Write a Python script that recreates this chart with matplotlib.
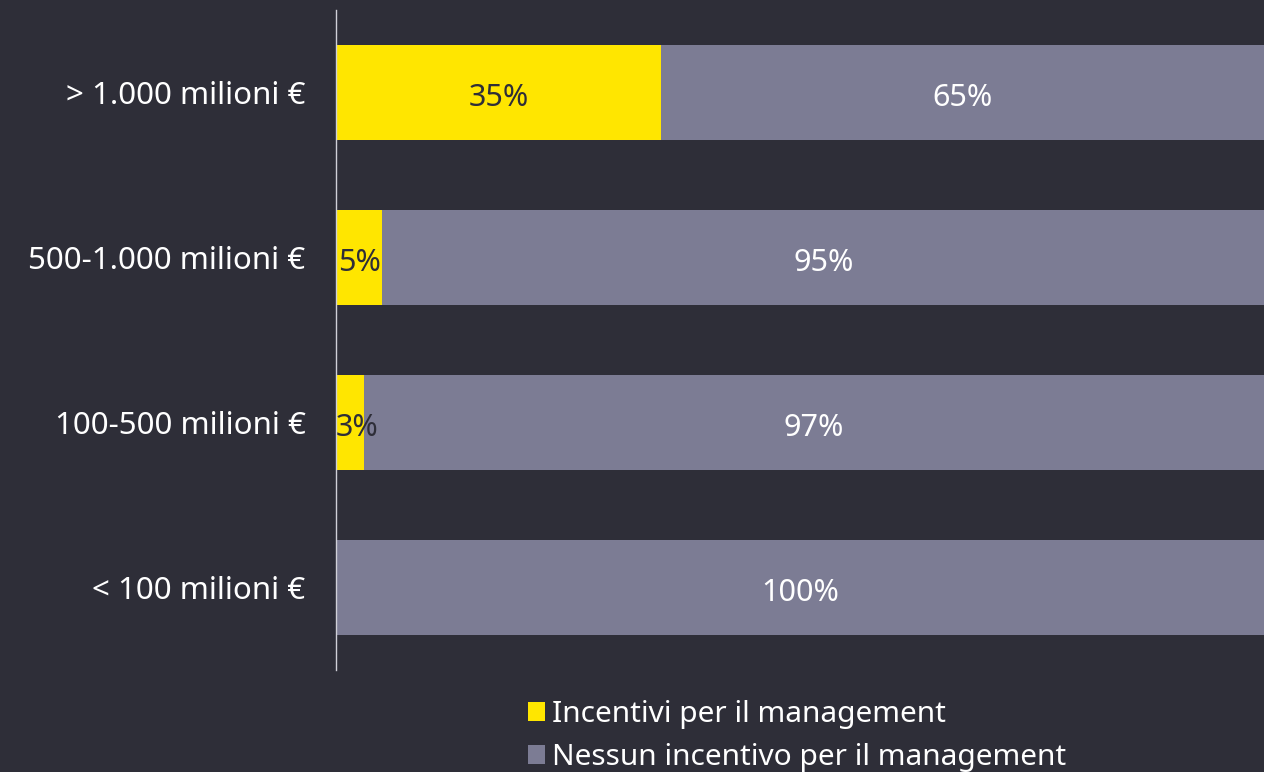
import matplotlib
matplotlib.use("Agg")
import matplotlib.pyplot as plt
from matplotlib.patches import Patch

categories = ["> 1.000 milioni €", "500-1.000 milioni €", "100-500 milioni €", "< 100 milioni €"]
incentivi = [35, 5, 3, 0]
nessuno = [65, 95, 97, 100]
series_names = ["Incentivi per il management", "Nessun incentivo per il management"]

BG = "#2e2e38"
YEL = "#ffe600"
GRY = "#7c7c94"

plt.rcParams['font.family'] = ['Noto Sans', 'DejaVu Sans']

fig = plt.figure(figsize=(12.64, 7.72), dpi=100, facecolor=BG)
ax = fig.add_axes([336/1264, 1-670/772, 1-336/1264, 660/772])
ax.set_facecolor(BG)

y = list(range(len(categories)))
h = 0.57
ax.barh(y, incentivi, height=h, color=YEL, edgecolor='none')
ax.barh(y, nessuno, left=incentivi, height=h, color=GRY, edgecolor='none')

FS = 22
for yi, a, b in zip(y, incentivi, nessuno):
    if a > 0:
        ax.text(max(a/2, 2.3), yi + 0.015, f"{a}%", ha='center', va='center_baseline', color=BG, fontsize=FS)
    ax.text(a + b/2, yi + 0.015, f"{b}%", ha='center', va='center_baseline', color='white', fontsize=FS)

ax.set_xlim(0, 100)
ax.set_ylim(len(categories)-0.5, -0.5)
ax.set_yticks(y)
ax.set_yticklabels(categories, color='white', fontsize=22.5)
for t in ax.get_yticklabels():
    t.set_va('center_baseline')
ax.tick_params(axis='y', length=0, pad=22)
ax.set_xticks([])
for s in ['top', 'right', 'bottom']:
    ax.spines[s].set_visible(False)
ax.spines['left'].set_color('#d0d0d8')
ax.spines['left'].set_linewidth(1)

handles = [Patch(facecolor=YEL, edgecolor='none'), Patch(facecolor=GRY, edgecolor='none')]
leg = fig.legend(handles, series_names, loc='upper left', bbox_to_anchor=(528/1264, 1-700/772),
                 frameon=False, fontsize=21.5, labelcolor='white', handlelength=0.56, handleheight=0.56,
                 handletextpad=0.25, labelspacing=0.47, borderaxespad=0, borderpad=0)

fig.savefig("out.png", dpi=100, facecolor=BG)
